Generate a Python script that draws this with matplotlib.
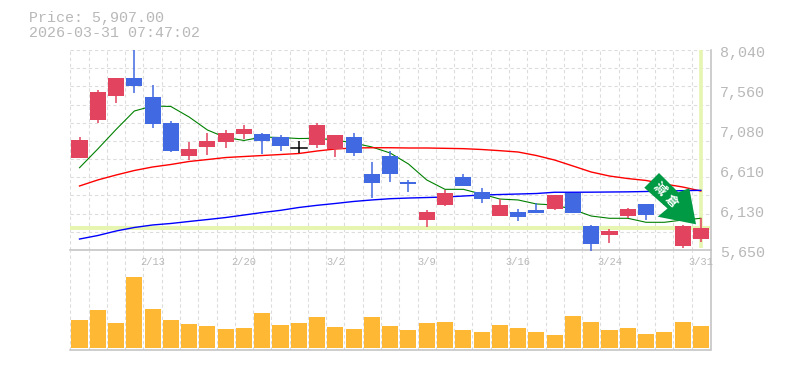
import matplotlib
matplotlib.use('Agg')
import matplotlib.pyplot as plt
from matplotlib.patches import Polygon
import numpy as np

W, H = 785, 370

# Values
opens = [6753, 7207, 7494, 7705, 7478, 7168, 6777, 6884, 6944, 7040, 7036, 7000,
         6865, 6908, 6857, 7000, 6558, 6773, 6466, 6012, 6191, 6522, 6343, 6060,
         6104, 6128, 6144, 6335, 5937, 5829, 6056, 6200, 6271, 5701, 5785]
closes = [6965, 7538, 7705, 7613, 7159, 6837, 6857, 6953, 7048, 7096, 6956, 6896,
          6865, 7144, 7024, 6813, 6454, 6562, 6442, 6104, 6331, 6418, 6263, 6188,
          6048, 6096, 6307, 6096, 5725, 5877, 6140, 6072, 6391, 5937, 5907]
highs = [7000, 7562, 7705, 8040, 7622, 7192, 6941, 7048, 7084, 7144, 7048, 7024,
         6949, 7168, 7024, 7048, 6702, 6833, 6487, 6128, 6367, 6558, 6391, 6263,
         6140, 6212, 6307, 6335, 5949, 5901, 6152, 6200, 6486, 5952, 6032]
lows = [6753, 7171, 7410, 7530, 7111, 6825, 6726, 6789, 6872, 6976, 6797, 6837,
        6806, 6872, 6765, 6777, 6275, 6466, 6347, 5928, 6176, 6418, 6215, 6060,
        6000, 6096, 6128, 6096, 5642, 5737, 6032, 6008, 6188, 5677, 5746]
ma_green = [6633, 6857, 7090, 7311, 7371, 7365, 7239, 7084, 6994, 6959, 7000, 6994,
            6982, 6985, 6964, 6929, 6881, 6809, 6678, 6487, 6375, 6375, 6319, 6259,
            6248, 6200, 6188, 6134, 6056, 6029, 6029, 5981, 5981, 6008, 6029]
ma_red = [6415, 6487, 6546, 6600, 6642, 6672, 6708, 6731, 6755, 6767, 6779, 6791,
          6803, 6833, 6857, 6869, 6872, 6872, 6869, 6869, 6865, 6861, 6851, 6837,
          6821, 6779, 6725, 6654, 6582, 6534, 6504, 6481, 6439, 6403, 6355]
ma_blue = [5781, 5823, 5877, 5919, 5949, 5967, 5991, 6014, 6038, 6068, 6098, 6124,
           6158, 6184, 6206, 6230, 6248, 6263, 6271, 6277, 6283, 6295, 6307, 6313,
           6319, 6325, 6340, 6340, 6341, 6343, 6345, 6349, 6355, 6359, 6363]
volumes = [28, 38, 25, 71, 39, 28, 24, 22, 19, 20, 35, 23, 25, 31, 21, 19, 31, 22,
           18, 25, 26, 18, 16, 23, 20, 16, 13, 32, 26, 18, 20, 14, 16, 26, 22]
date_labels = ['2/13', '2/20', '3/2', '3/9', '3/16', '3/24', '3/31']
date_positions = [4, 9, 14, 19, 24, 29, 34]
price_labels = [8040, 7560, 7080, 6610, 6130, 5650]
last_price = 5907

RED = '#e2435f'
BLUE = '#4169e1'
GREY = '#c0c0c0'
GRID = '#dcdcdc'
TEXT = '#b8b8b8'
LIME = '#e6f5b0'
ARROW = '#009944'
MONO = ['Liberation Mono', 'DejaVu Sans Mono']
CJK = ['Noto Sans CJK TC', 'DejaVu Sans']
XLIM = (-0.52, 34.5)
YLIM = (5650, 8040)


def axes_box(left, top, right, bottom):
    return [left / W, 1 - bottom / H, (right - left) / W, (bottom - top) / H]


fig = plt.figure(figsize=(W / 100, H / 100), dpi=100)
ax = fig.add_axes(axes_box(70, 50, 710, 250))
ax_vol = fig.add_axes(axes_box(70, 250, 710, 350))

grid_x = np.arange(35) - 0.5
for a in (ax, ax_vol):
    a.set_xlim(*XLIM)
    a.set_xticks([])
    a.set_yticks([])
    for s in a.spines.values():
        s.set_visible(False)
    a.patch.set_alpha(0)
    for gx in grid_x:
        a.axvline(gx, color=GRID, lw=0.8, dashes=(3, 2.5), zorder=0)
    a.axvline(XLIM[1] + 0.03, color=GREY, lw=1.1, zorder=1, clip_on=False)

ax.set_ylim(*YLIM)
for gy in np.linspace(YLIM[0], YLIM[1], 12)[1:]:
    ax.axhline(gy, color=GRID, lw=0.8, dashes=(3, 2.5), zorder=0)
ax.axhline(YLIM[0], color=GREY, lw=1.1, zorder=1, clip_on=False)

# current price / current day markers
ax.axhline(last_price, color=LIME, lw=2.9, zorder=1)
ax.plot([34, 34], [5675, YLIM[1]], color=LIME, lw=2.6, zorder=1, solid_capstyle='butt')

xs = np.arange(len(opens))
ax.plot(xs, ma_green, color='#008000', lw=0.8, zorder=2)
ax.plot(xs, ma_red, color='#ff0000', lw=1.0, zorder=2)
ax.plot(xs, ma_blue, color='#0000ff', lw=1.0, zorder=2)

for i in xs:
    o, c = opens[i], closes[i]
    if c == o:
        color = 'black'
    elif c > o:
        color = RED
    else:
        color = BLUE
    ax.plot([i, i], [lows[i], highs[i]], color=color, lw=1.1, zorder=3,
            solid_capstyle='butt', clip_on=False)
    if c == o:
        ax.plot([i - 0.44, i + 0.44], [c, c], color=color, lw=1.1, zorder=3)
    else:
        ax.bar(i, abs(c - o), bottom=min(o, c), width=0.88, color=color, zorder=3)

# signal arrow, pixel outline converted to figure coordinates
arrow_px = [(644.3, 187.7), (659, 173), (678.3, 192.3), (689.3, 188.3), (696, 224.3),
            (657.7, 216.7), (667.5, 208.5)]
arrow_xy = [(x / W, 1 - y / H) for x, y in arrow_px]
fig.add_artist(Polygon(arrow_xy, closed=True, transform=fig.transFigure,
                       facecolor=ARROW, edgecolor='none', zorder=5))
for (tx, ty), ch in zip([(659, 189), (671, 201)], '減倉'):
    fig.text(tx / W, 1 - ty / H, ch, color='white', fontsize=9, fontweight='bold',
             rotation=-45, ha='center', va='center', zorder=6, family=CJK)

# volume
ax_vol.set_ylim(-2, 98)
ax_vol.bar(xs, volumes, width=0.88, color='#ffb833', zorder=2)
ax_vol.axhline(-2, color=GREY, lw=1.1, zorder=3, clip_on=False)

# date labels sit just under the price axis
for p, lab in zip(date_positions, date_labels):
    ax_vol.text(p, 86, lab, color=TEXT, fontsize=7.5, family=MONO, ha='center', va='center',
                zorder=4)

# price labels
for v in price_labels:
    y = 50 + (YLIM[1] - v) / (YLIM[1] - YLIM[0]) * 200
    fig.text(720 / W, 1 - (y + 3) / H, f'{v:,}', color=TEXT, fontsize=10.8, family=MONO,
             ha='left', va='center')

fig.text(29 / W, 1 - 18 / H, f'Price: {last_price:,.2f}', color=TEXT, fontsize=10.8,
         family=MONO, ha='left', va='center')
fig.text(29 / W, 1 - 33 / H, '2026-03-31 07:47:02', color=TEXT, fontsize=10.8,
         family=MONO, ha='left', va='center')

fig.savefig('out.png', dpi=100)
